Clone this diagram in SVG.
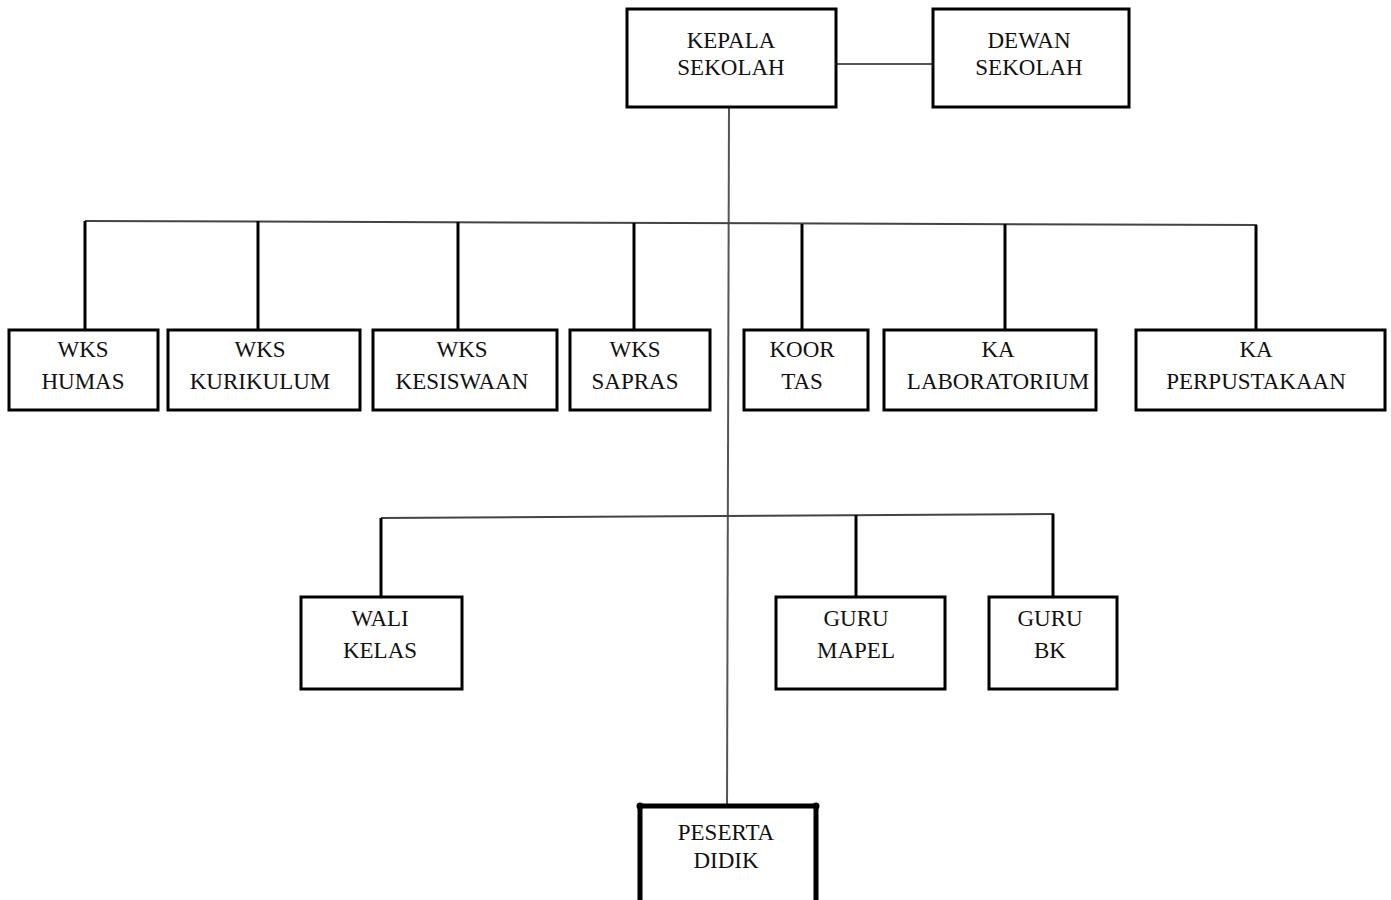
<svg xmlns="http://www.w3.org/2000/svg" width="1391" height="900" viewBox="0 0 1391 900">
<style>
.box{fill:#fff;stroke:#000;stroke-width:3}
.thick{fill:#fff;stroke:#000;stroke-width:5}
text{font-family:"Liberation Serif","Times New Roman",serif;font-size:23px;fill:#111;text-anchor:middle}
.bus{stroke:#444;stroke-width:2;fill:none}
.drop{stroke:#000;stroke-width:3;fill:none}
.trunk{stroke:#555;stroke-width:2;fill:none}
</style>
<rect width="1391" height="900" fill="#fff"/>
<g id="connectors">
<line class="trunk" x1="836" y1="64" x2="933" y2="64"/>
<line class="trunk" x1="729" y1="107" x2="727" y2="806"/>
<line class="bus" x1="85" y1="221" x2="1257" y2="225"/>
<line class="drop" x1="85" y1="221" x2="85" y2="330"/>
<line class="drop" x1="258" y1="221" x2="258" y2="330"/>
<line class="drop" x1="458" y1="222" x2="458" y2="330"/>
<line class="drop" x1="634" y1="223" x2="634" y2="330"/>
<line class="drop" x1="802" y1="224" x2="802" y2="330"/>
<line class="drop" x1="1005" y1="224" x2="1005" y2="330"/>
<line class="drop" x1="1256" y1="225" x2="1256" y2="330"/>
<line class="bus" x1="381" y1="518" x2="1054" y2="514"/>
<line class="drop" x1="381" y1="518" x2="381" y2="597"/>
<line class="drop" x1="856" y1="515" x2="856" y2="597"/>
<line class="drop" x1="1053" y1="514" x2="1053" y2="597"/>
</g>
<g id="kepala-sekolah"><rect class="box" x="627" y="9" width="209" height="98"/><text x="731" y="48">KEPALA</text><text x="731" y="75">SEKOLAH</text></g>
<g id="dewan-sekolah"><rect class="box" x="933" y="9" width="196" height="98"/><text x="1029" y="48">DEWAN</text><text x="1029" y="75">SEKOLAH</text></g>
<g id="wks-humas"><rect class="box" x="9" y="330" width="149" height="80"/><text x="83" y="357">WKS</text><text x="83" y="389">HUMAS</text></g>
<g id="wks-kurikulum"><rect class="box" x="168" y="330" width="192" height="80"/><text x="260" y="357">WKS</text><text x="260" y="389">KURIKULUM</text></g>
<g id="wks-kesiswaan"><rect class="box" x="373" y="330" width="184" height="80"/><text x="462" y="357">WKS</text><text x="462" y="389">KESISWAAN</text></g>
<g id="wks-sapras"><rect class="box" x="570" y="330" width="140" height="80"/><text x="635" y="357">WKS</text><text x="635" y="389">SAPRAS</text></g>
<g id="koor-tas"><rect class="box" x="744" y="330" width="124" height="80"/><text x="802" y="357">KOOR</text><text x="802" y="389">TAS</text></g>
<g id="ka-laboratorium"><rect class="box" x="884" y="330" width="212" height="80"/><text x="998" y="357">KA</text><text x="998" y="389">LABORATORIUM</text></g>
<g id="ka-perpustakaan"><rect class="box" x="1136" y="330" width="249" height="80"/><text x="1256" y="357">KA</text><text x="1256" y="389">PERPUSTAKAAN</text></g>
<g id="wali-kelas"><rect class="box" x="301" y="597" width="161" height="92"/><text x="380" y="626">WALI</text><text x="380" y="658">KELAS</text></g>
<g id="guru-mapel"><rect class="box" x="776" y="597" width="169" height="92"/><text x="856" y="626">GURU</text><text x="856" y="658">MAPEL</text></g>
<g id="guru-bk"><rect class="box" x="989" y="597" width="128" height="92"/><text x="1050" y="626">GURU</text><text x="1050" y="658">BK</text></g>
<g id="peserta-didik"><rect class="thick" x="640" y="806" width="176" height="100"/><circle cx="640" cy="806" r="3.5"/><circle cx="816" cy="806" r="3.5"/><text x="726" y="840">PESERTA</text><text x="726" y="868">DIDIK</text></g>
</svg>
